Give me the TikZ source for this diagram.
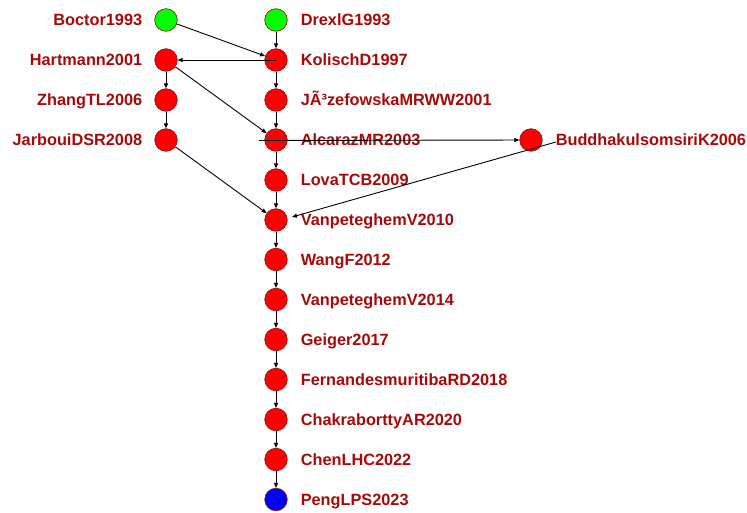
\documentclass[tikz,border=0pt]{standalone}
\usepackage{fontspec}
\setmainfont{Liberation Sans}
\usetikzlibrary{arrows.meta}
\definecolor{labred}{RGB}{165,10,10}
\definecolor{rimred}{RGB}{130,20,20}
\definecolor{nodered}{RGB}{255,0,0}
\definecolor{nodegreen}{RGB}{0,255,0}
\definecolor{nodeblue}{RGB}{0,0,255}
\tikzset{
  vert/.style={circle, draw=rimred, line width=0.6pt, minimum size=22.6pt, inner sep=0pt},
  rednode/.style={vert, fill=nodered},
  greennode/.style={vert, fill=nodegreen},
  bluenode/.style={vert, fill=nodeblue},
  lab/.style={text=labred, font=\fontsize{16.3}{18}\selectfont\bfseries, inner sep=0pt, text height=11.7pt, text depth=0pt},
  arr/.style={draw=black, line width=0.9pt, -{Triangle[length=5pt,width=4pt]}},
}
\begin{document}
\begin{tikzpicture}[x=1pt,y=-1pt]
\useasboundingbox (0,0) rectangle (747,513);
% left column
\node[greennode, label={[lab,label distance=12pt]left:Boctor1993}] (boc) at (166,20) {};
\node[rednode, label={[lab,label distance=12pt]left:Hartmann2001}] (har) at (166,60) {};
\node[rednode, label={[lab,label distance=12pt]left:ZhangTL2006}] (zha) at (166,100) {};
\node[rednode, label={[lab,label distance=12pt]left:JarbouiDSR2008}] (jar) at (166,140) {};
% right column
\node[greennode, label={[lab,label distance=13pt]right:DrexlG1993}] (dre) at (276,20) {};
\node[rednode, label={[lab,label distance=13pt]right:KolischD1997}] (kol) at (276,60) {};
\node[rednode, label={[lab,label distance=13pt]right:JÃ³zefowskaMRWW2001}] (joz) at (276,100) {};
\node[rednode, label={[lab,label distance=13pt]right:AlcarazMR2003}] (alc) at (276,140) {};
\node[rednode, label={[lab,label distance=13pt]right:LovaTCB2009}] (lov) at (276,180) {};
\node[rednode, label={[lab,label distance=13pt]right:VanpeteghemV2010}] (v10) at (276,220) {};
\node[rednode, label={[lab,label distance=13pt]right:WangF2012}] (wan) at (276,259.5) {};
\node[rednode, label={[lab,label distance=13pt]right:VanpeteghemV2014}] (v14) at (276,299.5) {};
\node[rednode, label={[lab,label distance=13pt]right:Geiger2017}] (gei) at (276,339.5) {};
\node[rednode, label={[lab,label distance=13pt]right:FernandesmuritibaRD2018}] (fer) at (276,379.5) {};
\node[rednode, label={[lab,label distance=13pt]right:ChakraborttyAR2020}] (cha) at (276,419.5) {};
\node[rednode, label={[lab,label distance=13pt]right:ChenLHC2022}] (che) at (276,459.5) {};
\node[bluenode, label={[lab,label distance=13pt]right:PengLPS2023}] (pen) at (276,499.5) {};
% far node
\node[rednode, label={[lab,label distance=13pt]right:BuddhakulsomsiriK2006}] (bud) at (531,140) {};
% free-end coordinates
\coordinate (alcstart) at (259,140.5);
\coordinate (budstart) at (556,142);
\coordinate (v10end) at (292,217);
% edges
\draw[arr] (boc) -- (kol);
\draw[arr] (dre) -- (kol);
\draw[arr] (kol.center) -- (har);
\draw[arr] (har) -- (zha);
\draw[arr] (zha) -- (jar);
\draw[arr] (har) -- (alc);
\draw[arr] (kol) -- (joz);
\draw[arr] (joz) -- (alc);
\draw[arr] (alcstart) -- (bud);
\draw[arr] (alc) -- (lov);
\draw[arr] (lov) -- (v10);
\draw[arr] (jar) -- (v10);
\draw[arr] (budstart) -- (v10end);
\draw[arr] (v10) -- (wan);
\draw[arr] (wan) -- (v14);
\draw[arr] (v14) -- (gei);
\draw[arr] (gei) -- (fer);
\draw[arr] (fer) -- (cha);
\draw[arr] (cha) -- (che);
\draw[arr] (che) -- (pen);
\end{tikzpicture}
\end{document}
